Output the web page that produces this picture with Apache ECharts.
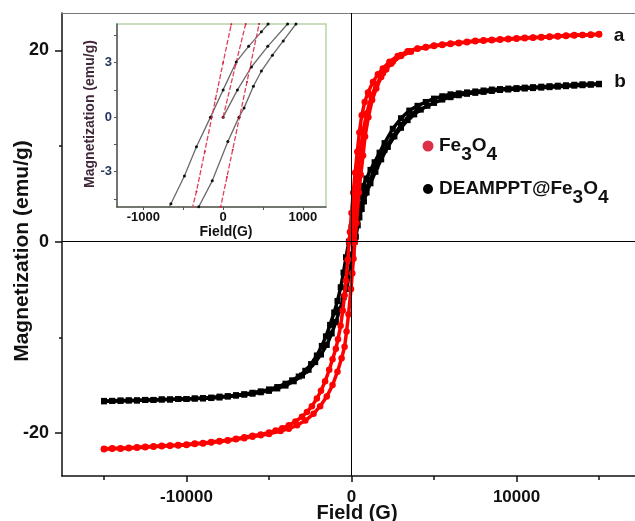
<!DOCTYPE html>
<html>
<head>
<meta charset="utf-8">
<script src="https://cdn.jsdelivr.net/npm/echarts@6/dist/echarts.min.js"></script>
<style>html,body{margin:0;padding:0;background:#fff}#c{width:635px;height:521px}</style>
</head>
<body>
<div id="c"></div>
<script>
// ---- Data: [field (G), magnetization (emu/g)] ----
const fe3o4Down = [[15000,21.7],[14500,21.65],[14000,21.6],[13500,21.6],[13000,21.55],[12500,21.5],[12000,21.45],[11500,21.4],[11000,21.35],[10500,21.3],[10000,21.25],[9500,21.2],[9000,21.15],[8500,21.1],[8000,21.05],[7500,21.0],[7000,20.9],[6500,20.8],[6000,20.7],[5500,20.6],[5000,20.5],[4500,20.35],[4000,20.2],[3400,19.9],[2800,19.4],[2300,18.8],[1900,18.1],[1600,17.5],[1300,16.7],[1000,15.6],[800,14.6],[620,13.2],[475,11.4],[350,9.4],[220,7.2],[102,5.1],[0,3.0],[-95,1.0],[-141,0],[-230,-1.9],[-334,-4.1],[-420,-5.6],[-530,-7.2],[-660,-8.8],[-820,-10.2],[-950,-11.2],[-1150,-12.3],[-1350,-13.4],[-1600,-14.6],[-1850,-15.6],[-2100,-16.4],[-2400,-17.2],[-2700,-17.8],[-3000,-18.3],[-3400,-18.8],[-3800,-19.2],[-4200,-19.5],[-4600,-19.75],[-5000,-19.95],[-5500,-20.15],[-6000,-20.3],[-6500,-20.45],[-7000,-20.6],[-7500,-20.75],[-8000,-20.85],[-8500,-20.95],[-9000,-21.05],[-9500,-21.1],[-10000,-21.2],[-10500,-21.25],[-11000,-21.3],[-11500,-21.35],[-12000,-21.4],[-12500,-21.45],[-13000,-21.5],[-13500,-21.55],[-14000,-21.6],[-14500,-21.6],[-15000,-21.65]];
const fe3o4Up = [[-15000,-21.7],[-14500,-21.65],[-14000,-21.65],[-13500,-21.6],[-13000,-21.55],[-12500,-21.5],[-12000,-21.45],[-11500,-21.4],[-11000,-21.35],[-10500,-21.3],[-10000,-21.25],[-9500,-21.15],[-9000,-21.1],[-8500,-21.0],[-8000,-20.9],[-7500,-20.8],[-7000,-20.65],[-6500,-20.55],[-6000,-20.4],[-5500,-20.25],[-5000,-20.1],[-4300,-19.8],[-3800,-19.55],[-3300,-19.2],[-2800,-18.7],[-2300,-18.0],[-1900,-17.2],[-1500,-16.2],[-1150,-15.0],[-850,-13.6],[-600,-12.2],[-420,-11.0],[-300,-9.4],[-180,-7.6],[-31,-4.95],[48,-3.3],[120,-1.8],[206,0],[300,1.95],[451,5.13],[560,7.0],[700,9.0],[820,11.0],[1020,13.0],[1250,14.8],[1500,16.0],[1800,17.2],[2100,18.0],[2500,18.8],[3000,19.5],[3500,19.9],[4000,20.15],[4500,20.3],[5000,20.45],[5500,20.55],[6000,20.65],[6500,20.75],[7000,20.85],[7500,20.95],[8000,21.0],[8500,21.05],[9000,21.1],[9500,21.15],[10000,21.2],[10500,21.25],[11000,21.3],[11500,21.35],[12000,21.4],[12500,21.45],[13000,21.5],[13500,21.55],[14000,21.6],[14500,21.6],[15000,21.65]];
const fe3o4Virgin = [[0,0],[158,2.9],[283,5.13],[420,7.6],[560,9.8],[720,11.7],[920,13.4],[1200,15.2],[1500,16.4],[1900,17.6],[2400,18.6],[3000,19.4],[3600,19.85]];

const deamDown = [[15000,16.5],[14500,16.45],[14000,16.45],[13500,16.4],[13000,16.35],[12500,16.3],[12000,16.25],[11500,16.2],[11000,16.15],[10500,16.1],[10000,16.05],[9500,16.0],[9000,15.95],[8500,15.9],[8000,15.8],[7500,15.7],[7000,15.6],[6500,15.5],[6000,15.4],[5500,15.2],[5000,14.95],[4500,14.6],[4000,14.2],[3500,13.7],[3000,12.9],[2500,11.8],[2000,10.3],[1700,9.3],[1400,8.3],[1150,7.5],[900,6.6],[700,5.8],[564,5.13],[480,4.7],[320,3.9],[165,3.04],[0,1.5],[-158,0],[-334,-1.63],[-485,-3.24],[-654,-4.77],[-850,-6.2],[-1050,-7.4],[-1300,-8.7],[-1550,-9.9],[-1800,-10.9],[-2100,-11.9],[-2450,-12.8],[-2800,-13.5],[-3200,-14.1],[-3600,-14.5],[-4000,-14.85],[-4500,-15.2],[-5000,-15.45],[-5500,-15.65],[-6000,-15.8],[-6500,-15.95],[-7000,-16.05],[-7500,-16.15],[-8000,-16.2],[-8500,-16.3],[-9000,-16.35],[-9500,-16.4],[-10000,-16.45],[-10500,-16.45],[-11000,-16.5],[-11500,-16.5],[-12000,-16.55],[-12500,-16.55],[-13000,-16.6],[-13500,-16.6],[-14000,-16.6],[-14500,-16.65],[-15000,-16.65]];
const deamUp = [[-15000,-16.7],[-14500,-16.65],[-14000,-16.65],[-13500,-16.6],[-13000,-16.6],[-12500,-16.55],[-12000,-16.55],[-11500,-16.5],[-11000,-16.5],[-10500,-16.45],[-10000,-16.45],[-9500,-16.4],[-9000,-16.4],[-8500,-16.35],[-8000,-16.3],[-7500,-16.2],[-7000,-16.1],[-6500,-16.0],[-6000,-15.9],[-5500,-15.75],[-5000,-15.6],[-4500,-15.35],[-4000,-15.05],[-3500,-14.6],[-3000,-14.0],[-2600,-13.4],[-2200,-12.6],[-1850,-11.8],[-1500,-10.8],[-1200,-9.6],[-950,-8.4],[-700,-7.1],[-480,-5.8],[-305,-4.94],[-136,-3.51],[60,-1.34],[199,0],[263,0.51],[380,1.7],[480,2.54],[619,3.41],[754,4.2],[913,5.13],[1150,6.1],[1450,7.3],[1800,8.6],[2200,9.9],[2600,11.0],[3000,11.9],[3400,12.7],[3800,13.3],[4200,13.8],[4600,14.2],[5000,14.5],[5500,14.85],[6000,15.1],[6500,15.3],[7000,15.45],[7500,15.55],[8000,15.65],[8500,15.75],[9000,15.85],[9500,15.9],[10000,15.95],[10500,16.0],[11000,16.05],[11500,16.1],[12000,16.15],[12500,16.2],[13000,16.25],[13500,16.3],[14000,16.35],[14500,16.4],[15000,16.45]];
const deamVirgin = [[0,0],[180,1.5],[355,2.76],[560,3.9],[808,5.13],[1100,6.4],[1500,7.9],[2000,9.6],[2500,11.0],[3000,12.2],[3500,13.1],[4000,13.8]];

// ---- Ticks ----
const mainXTicks = [-10000, 0, 10000];
const mainXMinor = [-15000, -5000, 5000, 15000];
const mainYTicks = [-20, 0, 20];
const mainYMinor = [-10, 10];
const insetXTicks = [-1000, 0, 1000];
const insetXMinor = [-500, 500];
const insetYTicks = [-3, 0, 3];
const insetYMinor = [-4.5, -1.5, 1.5, 4.5];

const FONT = 'Liberation Sans, Arial, sans-serif';
const chart = echarts.init(document.getElementById('c'), null, {renderer: 'canvas'});

function mainSeries(name, data, isRed) {
  return {
    name: name, type: 'line', xAxisIndex: 0, yAxisIndex: 0, data: data,
    symbol: isRed ? 'circle' : 'rect', symbolSize: isRed ? 6.5 : 6,
    itemStyle: {color: isRed ? '#ff0000' : '#000000'},
    lineStyle: {color: isRed ? '#ff0000' : '#000000', width: 3.5},
    z: isRed ? 4 : 3, silent: true
  };
}
function insetSeries(data, isRed) {
  return {
    type: 'line', xAxisIndex: 3, yAxisIndex: 2, data: data, clip: true,
    symbol: 'circle', symbolSize: isRed ? 2 : 3,
    itemStyle: {color: isRed ? '#d02040' : '#111'},
    lineStyle: {color: isRed ? '#e0405e' : '#6a6a6a', width: 1.3, type: isRed ? [5, 2] : 'solid'},
    z: 12, silent: true
  };
}
const tickFmt = v => String(v);
const XMIN = -17545, XMAX = 17180;

chart.setOption({
  animation: false,
  backgroundColor: '#ffffff',
  grid: [
    {left: 62, top: 13, width: 573, height: 463, show: false},
    {left: 117, top: 24, width: 209, height: 183, show: true, borderColor: '#b7d4aa', borderWidth: 1.5, backgroundColor: '#ffffff', z: 8}
  ],
  xAxis: [
    {gridIndex: 0, type: 'value', min: XMIN, max: XMAX, position: 'bottom',
     axisLine: {onZero: false, lineStyle: {color: '#111', width: 1.5}},
     axisTick: {customValues: mainXTicks, length: 6, lineStyle: {color: '#111', width: 1.5}},
     axisLabel: {customValues: mainXTicks, formatter: tickFmt, margin: 13, fontSize: 17, fontWeight: 'bold', color: '#111', fontFamily: FONT},
     splitLine: {show: false}},
    {gridIndex: 0, type: 'value', min: XMIN, max: XMAX, position: 'bottom',
     axisLine: {show: false, onZero: false},
     axisTick: {customValues: mainXMinor, length: 4, lineStyle: {color: '#111', width: 1.5}},
     axisLabel: {show: false}, splitLine: {show: false}},
    {gridIndex: 0, type: 'value', min: XMIN, max: XMAX, position: 'top',
     axisLine: {show: true, onZero: false, lineStyle: {color: '#777', width: 1}},
     axisTick: {show: false}, axisLabel: {show: false}, splitLine: {show: false}},
    {gridIndex: 1, type: 'value', min: -1330, max: 1290, position: 'bottom', z: 10,
     axisLine: {onZero: false, lineStyle: {color: '#555', width: 1.5}},
     axisTick: {customValues: insetXTicks.concat(insetXMinor), length: 3, lineStyle: {color: '#555', width: 1}},
     axisLabel: {customValues: insetXTicks, formatter: tickFmt, margin: 4, fontSize: 13, fontWeight: 'bold', color: '#111', fontFamily: FONT},
     splitLine: {show: false}}
  ],
  yAxis: [
    {gridIndex: 0, type: 'value', min: -24.5, max: 23.9, position: 'left',
     axisLine: {onZero: false, lineStyle: {color: '#111', width: 1.5}},
     axisTick: {customValues: mainYTicks, length: 7, lineStyle: {color: '#111', width: 1.5}},
     axisLabel: {customValues: mainYTicks, formatter: tickFmt, margin: 13, fontSize: 18, fontWeight: 'bold', color: '#111', fontFamily: FONT},
     splitLine: {show: false}},
    {gridIndex: 0, type: 'value', min: -24.5, max: 23.9, position: 'left',
     axisLine: {show: false, onZero: false},
     axisTick: {customValues: mainYMinor, length: 3, lineStyle: {color: '#111', width: 1.5}},
     axisLabel: {show: false}, splitLine: {show: false}},
    {gridIndex: 1, type: 'value', min: -4.95, max: 5.13, position: 'left', z: 10,
     axisLine: {onZero: false, lineStyle: {color: '#555', width: 1.5}},
     axisTick: {customValues: insetYTicks.concat(insetYMinor), length: 3, lineStyle: {color: '#555', width: 1}},
     axisLabel: {customValues: insetYTicks, formatter: tickFmt, margin: 5, fontSize: 13, fontWeight: 'bold', color: '#26365e', fontFamily: FONT},
     splitLine: {show: false}}
  ],
  series: [
    Object.assign(mainSeries('DEAMPPT@Fe3O4', deamUp, false), {
      markLine: {silent: true, symbol: ['none', 'none'], label: {show: false},
        lineStyle: {color: '#000', width: 1, type: 'solid'},
        data: [{xAxis: 0}, {yAxis: 0}]}
    }),
    mainSeries('DEAMPPT@Fe3O4', deamDown, false),
    mainSeries('DEAMPPT@Fe3O4', deamVirgin, false),
    mainSeries('Fe3O4', fe3o4Up, true),
    mainSeries('Fe3O4', fe3o4Down, true),
    mainSeries('Fe3O4', fe3o4Virgin, true),
    Object.assign(insetSeries(deamUp, false), {
      markLine: {silent: true, symbol: ['none', 'none'], label: {show: false},
        lineStyle: {color: '#8c8c8c', width: 1.5, type: 'solid'},
        data: [{xAxis: 0}, {yAxis: 0}]}
    }),
    insetSeries(deamDown, false),
    insetSeries(deamVirgin, false),
    insetSeries(fe3o4Up, true),
    insetSeries(fe3o4Down, true),
    insetSeries(fe3o4Virgin, true)
  ],
  graphic: [
    {type: 'text', x: 22, y: 251, rotation: Math.PI / 2, z: 20,
     style: {text: 'Magnetization (emu/g)', fill: '#111', font: 'bold 21px ' + FONT, align: 'center', verticalAlign: 'middle'}},
    {type: 'text', x: 357, y: 513, z: 20,
     style: {text: 'Field (G)', fill: '#111', font: 'bold 20px ' + FONT, align: 'center', verticalAlign: 'middle'}},
    {type: 'text', x: 90, y: 114, rotation: Math.PI / 2, z: 20,
     style: {text: 'Magnetization (emu/g)', fill: '#40283a', font: 'bold 14px ' + FONT, align: 'center', verticalAlign: 'middle'}},
    {type: 'text', x: 226, y: 232, z: 20,
     style: {text: 'Field(G)', fill: '#111', font: 'bold 14px ' + FONT, align: 'center', verticalAlign: 'middle'}},
    {type: 'text', x: 619, y: 36, z: 20,
     style: {text: 'a', fill: '#111', font: 'bold 19px ' + FONT, align: 'center', verticalAlign: 'middle'}},
    {type: 'text', x: 620, y: 82, z: 20,
     style: {text: 'b', fill: '#111', font: 'bold 19px ' + FONT, align: 'center', verticalAlign: 'middle'}},
    {type: 'circle', shape: {cx: 428, cy: 146, r: 5.5}, style: {fill: '#dc3048'}, z: 20},
    {type: 'circle', shape: {cx: 428, cy: 189, r: 5}, style: {fill: '#000'}, z: 20},
    {type: 'text', x: 439, y: 136, z: 20,
     style: {text: '{b|Fe}{s|3}{b|O}{s|4}', fill: '#111',
       rich: {b: {fontSize: 19, fontWeight: 'bold', fontFamily: FONT, lineHeight: 19, verticalAlign: 'top', fill: '#111'},
              s: {fontSize: 19, fontWeight: 'bold', fontFamily: FONT, lineHeight: 19, padding: [9, 0, 0, 0], verticalAlign: 'top', fill: '#111'}}}},
    {type: 'text', x: 439, y: 179, z: 20,
     style: {text: '{b|DEAMPPT@Fe}{s|3}{b|O}{s|4}', fill: '#111',
       rich: {b: {fontSize: 19, fontWeight: 'bold', fontFamily: FONT, lineHeight: 19, verticalAlign: 'top', fill: '#111'},
              s: {fontSize: 19, fontWeight: 'bold', fontFamily: FONT, lineHeight: 19, padding: [9, 0, 0, 0], verticalAlign: 'top', fill: '#111'}}}}
  ]
});
</script>
</body>
</html>
